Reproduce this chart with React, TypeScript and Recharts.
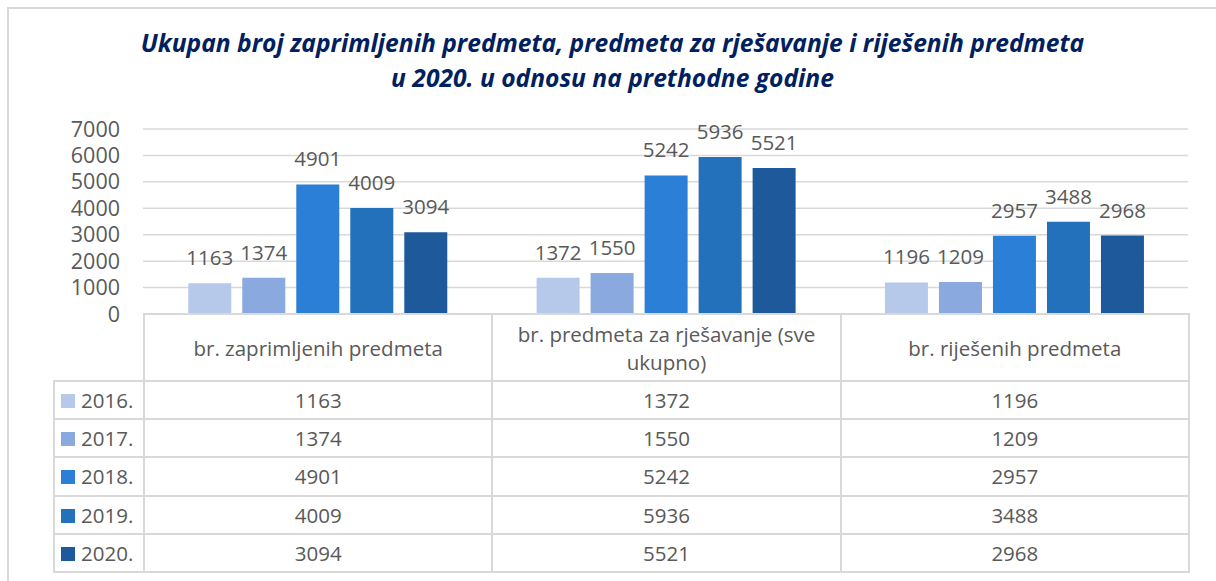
import React from 'react';
import { BarChart, Bar, YAxis, XAxis, CartesianGrid, LabelList } from 'recharts';

const categories = ['br. zaprimljenih predmeta', 'br. predmeta za rješavanje (sve ukupno)', 'br. riješenih predmeta'];
const years = ['2016.', '2017.', '2018.', '2019.', '2020.'];
const v2016 = [1163, 1372, 1196];
const v2017 = [1374, 1550, 1209];
const v2018 = [4901, 5242, 2957];
const v2019 = [4009, 5936, 3488];
const v2020 = [3094, 5521, 2968];
const yTicks = [0, 1000, 2000, 3000, 4000, 5000, 6000, 7000];

const seriesValues = [v2016, v2017, v2018, v2019, v2020];
const colors = ['#B7C9EA', '#8AA9DE', '#2B7FD6', '#2370BB', '#1E5A9B'];

const data = categories.map((name, i) => {
  const row: Record<string, string | number> = { name };
  years.forEach((y, s) => {
    row[y] = seriesValues[s][i];
  });
  return row;
});

const W = 1216;
const H = 581;
const plotLeft = 143;
const plotRight = 1188;
const plotTop = 129;
const plotBottom = 314;
const grey = '#595959';
const line = '#d9d9d9';
const font = '"Open Sans", sans-serif';

const cellBorder = `2px solid ${line}`;

export default function App() {
  const band = (plotRight - plotLeft) / categories.length;
  return (
    <div style={{ position: 'absolute', left: 0, top: 0, width: W, height: H, background: '#fff', overflow: 'hidden' }}>
      <div
        style={{
          position: 'absolute', left: 7, top: 7, width: W - 7, height: H - 7,
          borderTop: cellBorder, borderLeft: cellBorder, boxSizing: 'border-box',
        }}
      />
      <div
        style={{
          position: 'absolute', left: 9, top: 25, width: 1207, textAlign: 'center',
          fontFamily: font, fontStyle: 'italic', fontWeight: 700, fontSize: 24.6,
          lineHeight: '35px', color: '#002060',
        }}
      >
        Ukupan broj zaprimljenih predmeta, predmeta za rješavanje i riješenih predmeta
        <br />
        u 2020. u odnosu na prethodne godine
      </div>

      <div style={{ position: 'absolute', left: 0, top: 0 }}>
        <BarChart
          width={W}
          height={H}
          data={data}
          margin={{ top: plotTop, right: W - plotRight, bottom: H - plotBottom, left: 0 }}
          barCategoryGap="13%"
          barGap={11}
        >
          <CartesianGrid vertical={false} stroke={line} strokeWidth={1.5} />
          <XAxis dataKey="name" hide />
          <YAxis
            width={plotLeft}
            domain={[0, 7000]}
            ticks={yTicks}
            interval={0}
            axisLine={false}
            tickLine={false}
            tickMargin={17}
            tick={{ fill: grey, fontSize: 21.5, fontFamily: font }}
          />
          {years.map((y, s) => (
            <Bar key={y} dataKey={y} fill={colors[s]} isAnimationActive={false}>
              <LabelList dataKey={y} position="top" offset={18} fill={grey} fontSize={20.5} fontFamily={font} />
            </Bar>
          ))}
        </BarChart>
      </div>

      <table
        style={{
          position: 'absolute', left: 53, top: plotBottom - 1, borderCollapse: 'collapse', tableLayout: 'fixed',
          fontFamily: font, fontSize: 20.5, color: grey, width: plotRight - 53 + 1,
        }}
      >
        <colgroup>
          <col style={{ width: plotLeft - 53 }} />
          {categories.map((c) => (
            <col key={c} style={{ width: band }} />
          ))}
        </colgroup>
        <tbody>
          <tr style={{ height: 67 }}>
            <td style={{ border: 'none', padding: 0 }} />
            {categories.map((c) => (
              <td key={c} style={{ border: cellBorder, textAlign: 'center', lineHeight: '28px', padding: '0 8px' }}>
                {c}
              </td>
            ))}
          </tr>
          {years.map((y, s) => (
            <tr key={y} style={{ height: 38.2 }}>
              <td style={{ border: cellBorder, padding: '0 0 0 6px', whiteSpace: 'nowrap', lineHeight: '24px' }}>
                <span
                  style={{
                    display: 'inline-block', width: 14, height: 14, background: colors[s],
                    marginRight: 6, verticalAlign: 'baseline', position: 'relative', top: 0,
                  }}
                />
                {y}
              </td>
              {seriesValues[s].map((v, i) => (
                <td key={i} style={{ border: cellBorder, textAlign: 'center', padding: 0, lineHeight: '24px' }}>
                  {v}
                </td>
              ))}
            </tr>
          ))}
        </tbody>
      </table>
    </div>
  );
}
